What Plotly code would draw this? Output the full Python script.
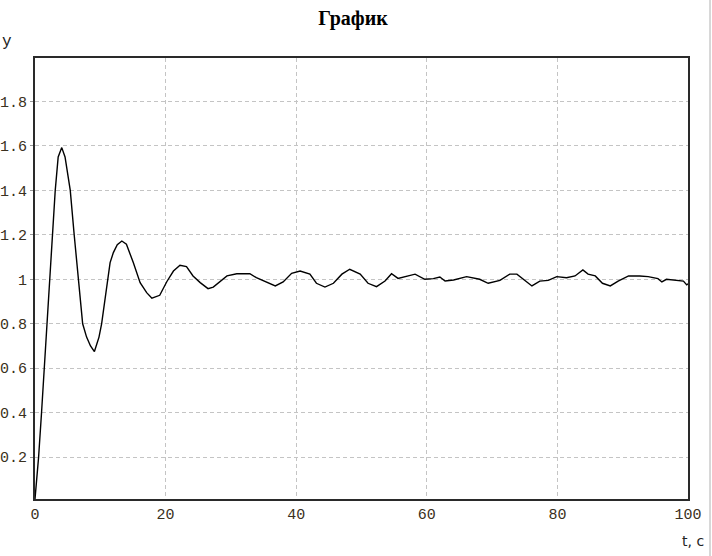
import plotly.graph_objects as go

# Time samples (s) and response values
t_vals = [0, 0.3, 0.55, 1.0, 1.4, 1.85, 2.3, 2.7, 3.1, 3.55, 4.1, 4.6, 5.0, 5.4,
          6.0, 6.6, 7.3, 7.9, 8.5, 9.1, 9.8, 10.2, 11.2, 11.5, 12.0, 12.6, 13.3,
          14.0, 15.05, 15.6, 16.1, 17.1, 17.9, 19.1, 20.2, 21.2, 22.2, 23.2,
          24.2, 25.3, 26.5, 27.3, 28.3, 29.4, 30.9, 31.4, 32.9, 33.9, 35.5,
          36.8, 38.0, 39.3, 40.6, 42.1, 43.1, 44.4, 45.7, 47.0, 48.2, 49.8,
          51.0, 52.3, 53.6, 54.6, 55.6, 56.9, 58.2, 59.7, 61.0, 62.0, 62.8,
          64.1, 66.1, 68.1, 69.4, 71.2, 72.7, 73.8, 74.8, 76.1, 77.3, 78.6,
          79.9, 81.4, 82.7, 83.9, 84.7, 85.8, 86.9, 88.1, 89.3, 90.9, 92.6,
          93.9, 95.4, 96.0, 96.7, 98.3, 99.3, 99.8, 100]
y_vals = [0.012, 0.1, 0.2, 0.4, 0.6, 0.8, 1.0, 1.2, 1.4, 1.55, 1.592, 1.55, 1.48, 1.4,
          1.2, 1.0, 0.8, 0.74, 0.70, 0.675, 0.74, 0.80, 1.0, 1.075, 1.12, 1.155, 1.172,
          1.158, 1.075, 1.03, 0.985, 0.94, 0.915, 0.928, 0.99, 1.037, 1.063, 1.057,
          1.015, 0.985, 0.958, 0.965, 0.99, 1.015, 1.025, 1.025, 1.025, 1.007, 0.988,
          0.97, 0.988, 1.027, 1.037, 1.023, 0.982, 0.965, 0.982, 1.023, 1.045, 1.023,
          0.982, 0.967, 0.992, 1.025, 1.004, 1.012, 1.023, 1.0, 1.003, 1.01, 0.992,
          0.997, 1.012, 1.0, 0.982, 0.995, 1.023, 1.023, 1.0, 0.97, 0.992, 0.995,
          1.012, 1.007, 1.015, 1.042, 1.023, 1.015, 0.982, 0.97, 0.992, 1.015, 1.015,
          1.012, 1.003, 0.988, 1.0, 0.995, 0.992, 0.975, 0.98]

x_ticks = [0, 20, 40, 60, 80, 100]
y_ticks = [0.2, 0.4, 0.6, 0.8, 1.0, 1.2, 1.4, 1.6, 1.8]
y_tick_text = ["0.2", "0.4", "0.6", "0.8", "1", "1.2", "1.4", "1.6", "1.8"]

fig = go.Figure()
fig.add_trace(go.Scatter(x=t_vals, y=y_vals, mode="lines",
                         line=dict(color="#000000", width=1.4),
                         showlegend=False, hoverinfo="skip"))

tick_font = dict(family="Liberation Mono, Courier New, monospace", size=15, color="#3a3020")

fig.update_layout(
    width=712, height=556,
    margin=dict(l=35, r=24, t=58, b=57, autoexpand=False),
    paper_bgcolor="white", plot_bgcolor="white",
    title=dict(text="<b>График</b>", x=0.487, xanchor="center",
               xref="paper", yref="container", y=1 - 18 / 556, yanchor="middle",
               font=dict(family="Liberation Serif, Times New Roman, serif", size=20, color="#000")),
    xaxis=dict(range=[0, 100], tickvals=x_ticks, ticktext=[str(v) for v in x_ticks],
               showgrid=True, gridcolor="#c4c4c4", griddash="4px,3px", gridwidth=1,
               showline=True, mirror=True, linecolor="#2a2a2a", linewidth=2,
               ticks="", tickfont=tick_font, zeroline=False, fixedrange=True,
               automargin=False),
    yaxis=dict(range=[0.012, 1.995], tickvals=y_ticks, ticktext=y_tick_text,
               showgrid=True, gridcolor="#c4c4c4", griddash="4px,3px", gridwidth=1,
               showline=True, mirror=True, linecolor="#2a2a2a", linewidth=2,
               ticks="outside", ticklen=3, tickcolor="#999", tickfont=tick_font,
               zeroline=False, fixedrange=True, automargin=False),
    annotations=[
        dict(text="y", xref="paper", yref="paper", x=-0.043, y=1.037,
             xanchor="center", yanchor="middle", showarrow=False,
             font=dict(family="Liberation Mono, Courier New, monospace", size=16, color="#222")),
        dict(text="t, c", xref="paper", yref="paper", x=1.027, y=-0.095,
             xanchor="right", yanchor="middle", showarrow=False,
             font=dict(family="DejaVu Sans, Verdana, sans-serif", size=14, color="#222")),
    ],
    shapes=[dict(type="line", xref="paper", yref="paper", x0=1.0337, x1=1.0337, y0=-0.2, y1=1.2,
                 line=dict(color="#b0b0b0", width=1))],
)

fig.write_html("out.html", config={"displayModeBar": False},
               post_script="document.body.style.margin='0';")
